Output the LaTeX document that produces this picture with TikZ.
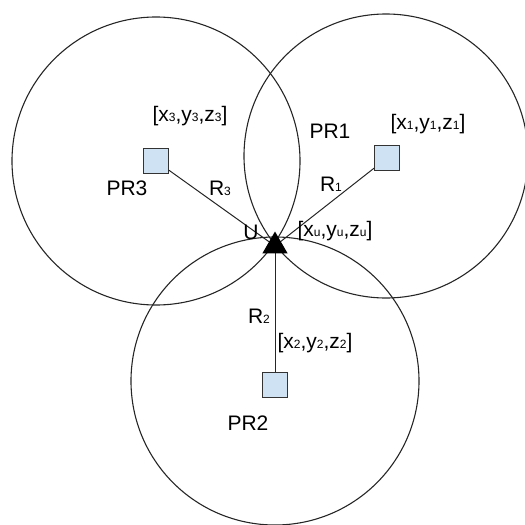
\documentclass[tikz,border=0pt]{standalone}
\usepackage{fontspec}
\setmainfont{Liberation Sans}
\usetikzlibrary{shapes.geometric}
\definecolor{sqblue}{HTML}{CFE2F3}
\newcommand{\lowidx}[1]{{\fontsize{12}{12}\selectfont #1}}
\begin{document}
\begin{tikzpicture}[x=1pt,y=-1pt,
  lbl/.style={font=\fontsize{21}{24}\selectfont, inner sep=0pt, anchor=base},
  station/.style={draw=black!80, fill=sqblue, minimum size=25pt, inner sep=0pt, line width=0.9pt},
  ring/.style={draw=black!85, line width=1.1pt},
  link/.style={draw=black!85, line width=1pt},
  user/.style={regular polygon, regular polygon sides=3, fill=black, minimum size=29pt, inner sep=0pt}]
\useasboundingbox (0,0) rectangle (525,525);
% circles
\draw[ring] (156,161) circle (144);
\draw[ring] (386,156) circle (142);
\draw[ring] (275,381) circle (144);
% nodes
\node[station] (pr3) at (156,161) {};
\node[station] (pr1) at (387,158) {};
\node[station] (pr2) at (275,385) {};
\coordinate (uc) at (275,246);
\draw[link] (pr3) -- (uc);
\draw[link] (pr1) -- (uc);
\draw[link] (pr2) -- (uc);
\node[user] (u) at (uc) {};
% labels
\node[lbl] (t3) at (190,121) {[x\lowidx{3},y\lowidx{3},z\lowidx{3}]};
\node[lbl] (n3) at (127,195) {PR3};
\node[lbl] (r3) at (220,195) {R\lowidx{3}};
\node[lbl] (n1) at (330,138) {PR1};
\node[lbl] (t1) at (428,129) {[x\lowidx{1},y\lowidx{1},z\lowidx{1}]};
\node[lbl] (r1) at (331,191) {R\lowidx{1}};
\node[lbl] (tu) at (335,236) {[x\lowidx{u},y\lowidx{u},z\lowidx{u}]};
\node[lbl] (ul) at (251,239) {U};
\node[lbl] (r2) at (259,323) {R\lowidx{2}};
\node[lbl] (t2) at (315,348) {[x\lowidx{2},y\lowidx{2},z\lowidx{2}]};
\node[lbl] (n2) at (248,430) {PR2};
\end{tikzpicture}
\end{document}
